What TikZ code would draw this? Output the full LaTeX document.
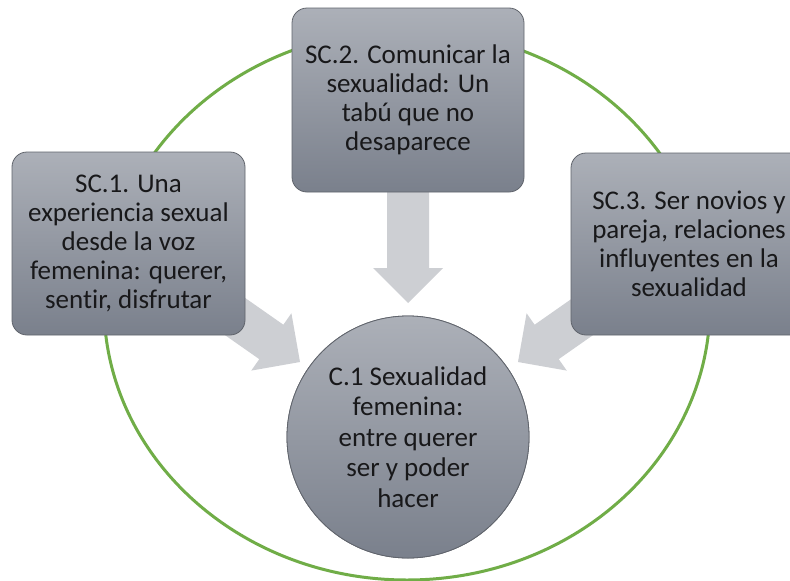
\documentclass[tikz,border=0pt]{standalone}
\usepackage{fontspec}
\setmainfont{Carlito}[Ligatures=NoCommon]
\usetikzlibrary{calc}
\definecolor{ringgreen}{RGB}{112,173,71}
\definecolor{boxtop}{RGB}{172,176,184}
\definecolor{boxbot}{RGB}{122,128,140}
\definecolor{boxline}{RGB}{96,100,108}
\definecolor{arrowgray}{RGB}{205,207,211}
\definecolor{txt}{RGB}{24,24,26}
\tikzset{
  subbox/.style={draw=boxline, line width=0.8pt, rounded corners=15pt,
    top color=boxtop, bottom color=boxbot, minimum width=233pt, minimum height=183pt,
    align=center, text=txt, font=\fontsize{27}{29}\selectfont, inner sep=0pt},
  corebox/.style={circle, draw=boxline, line width=0.8pt,
    top color=boxtop, bottom color=boxbot, minimum size=242pt,
    align=center, text=txt, font=\fontsize{27}{30.5}\selectfont, inner sep=0pt},
  ring/.style={draw=ringgreen, line width=3pt},
  pics/bigarrow/.style={code={
    \fill[arrowgray] (0,0) -- (-35,35) -- (-35,21) -- (-115,21) -- (-115,-21)
      -- (-35,-21) -- (-35,-35) -- cycle;}}
}
\begin{document}
\begin{tikzpicture}[x=1pt,y=-1pt]
\useasboundingbox (0,0) rectangle (790,581);
\clip (0,0) rectangle (790,581);
\fill[white] (0,0) rectangle (790,581);
% green ring
\draw[ring] (407,305) ellipse [x radius=303pt, y radius=275pt];
% central node
\node[corebox] (core) at (408,437) {C.1 Sexualidad\\femenina:\\entre querer\\ser y poder\\hacer};
% block arrows
\pic[rotate=-90] at ($(core)+(0,-134)$) {bigarrow};
\pic[rotate=-35] at ($(core)+(-108,-75)$) {bigarrow};
\pic[rotate=-145] at ($(core)+(110,-75)$) {bigarrow};
% sub boxes
\node[subbox] (sc1) at (128.5,243.5) {SC.1. Una\\experiencia sexual\\desde la voz\\femenina: querer,\\sentir, disfrutar};
\node[subbox, minimum width=232pt, minimum height=184pt] (sc2) at (408,100) {SC.2. Comunicar la\\sexualidad: Un\\tabú que no\\desaparece};
\node[subbox, minimum width=236pt, minimum height=182pt] (sc3) at (689,244) {SC.3. Ser novios y\\pareja, relaciones\\influyentes en la\\sexualidad};
% redraw core on top of arrow tips
\node[corebox] at (core) {C.1 Sexualidad\\femenina:\\entre querer\\ser y poder\\hacer};
\end{tikzpicture}
\end{document}
